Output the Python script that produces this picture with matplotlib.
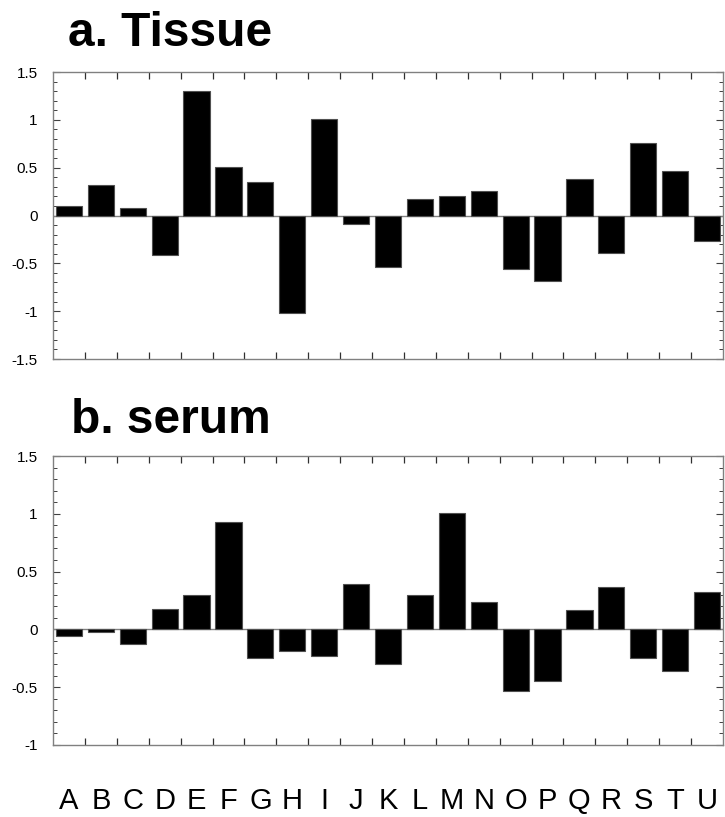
import matplotlib
matplotlib.use('Agg')
import matplotlib.pyplot as plt
import matplotlib.ticker as ticker

plt.rcParams['font.family'] = ['Liberation Sans', 'DejaVu Sans']

CATEGORIES = list('ABCDEFGHIJKLMNOPQRSTU')
TISSUE = [0.10, 0.32, 0.08, -0.41, 1.30, 0.51, 0.35, -1.02, 1.01, -0.09, -0.54,
          0.17, 0.20, 0.26, -0.56, -0.68, 0.38, -0.39, 0.76, 0.46, -0.27]
SERUM = [-0.06, -0.02, -0.13, 0.18, 0.30, 0.93, -0.245, -0.19, -0.23, 0.39, -0.30,
         0.30, 1.01, 0.24, -0.53, -0.45, 0.17, 0.37, -0.245, -0.36, 0.32]
TITLES = ['a. Tissue', 'b. serum']
YLIMS = [(-1.5, 1.5), (-1.0, 1.5)]

SPINE = '#808080'

fig = plt.figure(figsize=(7.25, 8.17), dpi=100)
ax1 = fig.add_axes([53 / 725, 1 - 359 / 817, 670 / 725, 287 / 817])
ax2 = fig.add_axes([53 / 725, 1 - 745 / 817, 670 / 725, 289 / 817])

n = len(CATEGORIES)
centers = [i + 0.5 for i in range(n)]

for ax, vals, ylim in zip([ax1, ax2], [TISSUE, SERUM], YLIMS):
    ax.bar(centers, vals, width=0.82, color='black', edgecolor='#505050',
           linewidth=0.8, zorder=3)
    ax.axhline(0, color=SPINE, linewidth=1.0, zorder=2)
    ax.set_xlim(0, n)
    ax.set_ylim(*ylim)

    for s in ax.spines.values():
        s.set_color(SPINE)
        s.set_linewidth(1.0)

    # y ticks: major every 0.5, minor every 0.1, inward on both sides
    ax.yaxis.set_major_locator(ticker.MultipleLocator(0.5))
    ax.yaxis.set_minor_locator(ticker.MultipleLocator(0.1))
    ax.yaxis.set_major_formatter(ticker.FuncFormatter(lambda v, _: f'{v:g}'))
    ax.tick_params(axis='y', which='major', direction='in', length=5,
                   width=0.8, color='#404040', left=True, right=True,
                   labelsize=11, pad=11)
    ax.tick_params(axis='y', which='minor', direction='in', length=3,
                   width=0.7, color='#404040', left=True, right=True)

    # x ticks at bar boundaries (minor), labels at bar centers (major)
    ax.set_xticks(range(1, n), minor=True)
    ax.tick_params(axis='x', which='minor', direction='in', length=5,
                   width=0.9, color='#303030', top=True, bottom=True)
    ax.set_xticks(centers)
    ax.tick_params(axis='x', which='major', length=0)

ax1.set_xticklabels([])
ax2.set_xticklabels(CATEGORIES, fontsize=21)
ax2.tick_params(axis='x', which='major', pad=30)

fig.text(68 / 725, 1 - 46 / 817, TITLES[0], fontsize=34.5, fontweight='bold',
         ha='left', va='baseline')
fig.text(71 / 725, 1 - 433 / 817, TITLES[1], fontsize=34.5, fontweight='bold',
         ha='left', va='baseline')

plt.savefig('out.png', dpi=100)
